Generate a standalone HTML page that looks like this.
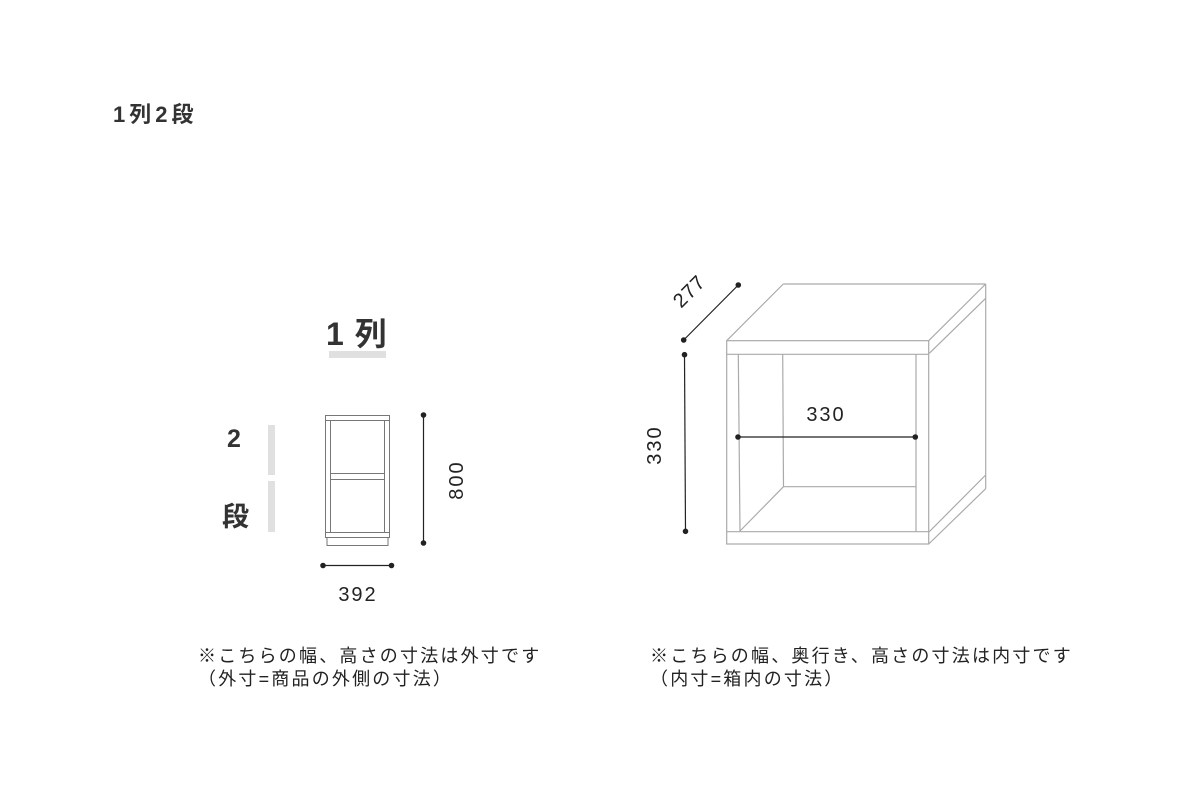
<!DOCTYPE html>
<html><head><meta charset="utf-8"><style>
html,body{margin:0;padding:0;background:#fff;}
body{width:1200px;height:800px;position:relative;overflow:hidden;font-family:"Liberation Sans","Noto Sans CJK JP",sans-serif;color:#333;}
.t{position:absolute;white-space:nowrap;}
</style></head><body>
<div class="t" style="left:113px;top:97px;font-size:22px;font-weight:bold;color:#333;letter-spacing:4px;">1列2段</div>
<div class="t" style="left:326px;top:309px;font-size:32px;font-weight:bold;color:#333;letter-spacing:1px;">1 列</div>
<div class="t" style="left:227px;top:425px;font-size:25px;font-weight:bold;color:#333;">2</div>
<div class="t" style="left:222px;top:495px;font-size:27px;font-weight:bold;color:#333;">段</div>
<div class="t" style="left:198px;top:645px;font-size:18px;line-height:23px;color:#222;letter-spacing:2.2px;">※こちらの幅、高さの寸法は外寸です<br>（外寸=商品の外側の寸法）</div>
<div class="t" style="left:650px;top:645px;font-size:18px;line-height:23px;color:#222;letter-spacing:2.2px;">※こちらの幅、奥行き、高さの寸法は内寸です<br>（内寸=箱内の寸法）</div>
<svg width="1200" height="800" style="position:absolute;left:0;top:0" font-family="Liberation Sans, sans-serif">
<rect x="329" y="351" width="57" height="7" fill="#e0e0e0"/>
<rect x="268" y="425" width="7" height="50" fill="#e0e0e0"/>
<rect x="268" y="481" width="7" height="51" fill="#e0e0e0"/>
<g fill="none" stroke="#777" stroke-width="1">
<rect x="325.5" y="415.5" width="64" height="122"/>
<line x1="325.5" y1="420.5" x2="389.5" y2="420.5"/>
<line x1="330.5" y1="420.5" x2="330.5" y2="532.5"/>
<line x1="384.5" y1="420.5" x2="384.5" y2="532.5"/>
<line x1="330.5" y1="473.5" x2="384.5" y2="473.5"/>
<line x1="330.5" y1="479.5" x2="384.5" y2="479.5"/>
<line x1="325.5" y1="532.5" x2="389.5" y2="532.5"/>
<rect x="327" y="537.5" width="61" height="8"/>
</g>
<g stroke="#222" stroke-width="1.2" fill="#222">
<line x1="423.5" y1="415" x2="423.5" y2="543"/>
<circle cx="423.5" cy="415" r="2.2"/><circle cx="423.5" cy="543" r="2.2"/>
<line x1="323" y1="565.5" x2="391.5" y2="565.5"/>
<circle cx="323" cy="565.5" r="2.2"/><circle cx="391.5" cy="565.5" r="2.2"/>
</g>
<text x="358" y="601" font-size="20" text-anchor="middle" fill="#222" letter-spacing="2">392</text>
<text transform="translate(463,480) rotate(-90)" font-size="20" text-anchor="middle" fill="#222" letter-spacing="2">800</text>
<g fill="none" stroke="#aaa" stroke-width="1.2">
<rect x="726.7" y="340.7" width="202" height="203.3"/>
<line x1="726.7" y1="354.3" x2="928.7" y2="354.3"/>
<line x1="726.7" y1="531.7" x2="928.7" y2="531.7"/>
<line x1="738.3" y1="354.3" x2="740" y2="531.7"/>
<line x1="916" y1="354.3" x2="916" y2="531.7"/>
<line x1="726.7" y1="340.7" x2="783.3" y2="284"/>
<line x1="783.3" y1="284" x2="985.7" y2="284"/>
<line x1="928.7" y1="340.7" x2="985.7" y2="284"/>
<line x1="929.3" y1="353.3" x2="985.7" y2="298.3"/>
<line x1="985.7" y1="284" x2="985.7" y2="488.7"/>
<line x1="928.7" y1="544" x2="985.7" y2="488.7"/>
<line x1="929" y1="532" x2="985.7" y2="475"/>
<line x1="782.7" y1="354.3" x2="783.5" y2="486.7"/>
<line x1="783.5" y1="486.7" x2="916" y2="486.7"/>
<line x1="740" y1="531" x2="783.5" y2="486.7"/>
</g>
<g stroke="#222" stroke-width="1.2" fill="#222">
<line x1="683.7" y1="340" x2="738.3" y2="285"/>
<circle cx="683.7" cy="340" r="2.2"/><circle cx="738.3" cy="285" r="2.2"/>
<line x1="684.5" y1="354.7" x2="685.5" y2="531.3"/>
<circle cx="684.5" cy="354.7" r="2.2"/><circle cx="685.5" cy="531.3" r="2.2"/>
<line x1="738" y1="437" x2="915.3" y2="437"/>
<circle cx="738" cy="437" r="2.2"/><circle cx="915.3" cy="437" r="2.2"/>
</g>
<text x="826" y="421" font-size="20" text-anchor="middle" fill="#222" letter-spacing="2">330</text>
<text transform="translate(661,445) rotate(-90)" font-size="20" text-anchor="middle" fill="#222" letter-spacing="2">330</text>
<text transform="translate(694,296) rotate(-45)" font-size="20" text-anchor="middle" fill="#222" letter-spacing="1">277</text>
</svg>
</body></html>
